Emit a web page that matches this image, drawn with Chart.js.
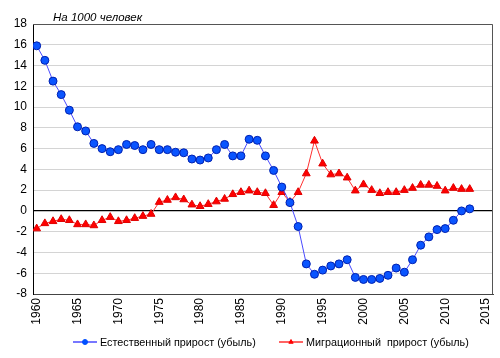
<!DOCTYPE html>
<html>
<head>
<meta charset="utf-8">
<script src="https://cdn.jsdelivr.net/npm/chart.js@4/dist/chart.umd.min.js"></script>
<style>
  html, body { margin: 0; padding: 0; background: #fff; }
</style>
</head>
<body>
<canvas id="chart" width="500" height="358"></canvas>
<script>
// годы наблюдений
const years = [1960, 1961, 1962, 1963, 1964, 1965, 1966, 1967, 1968, 1969,
               1970, 1971, 1972, 1973, 1974, 1975, 1976, 1977, 1978, 1979,
               1980, 1981, 1982, 1983, 1984, 1985, 1986, 1987, 1988, 1989,
               1990, 1991, 1992, 1993, 1994, 1995, 1996, 1997, 1998, 1999,
               2000, 2001, 2002, 2003, 2004, 2005, 2006, 2007, 2008, 2009,
               2010, 2011, 2012, 2013];

// естественный прирост, на 1000 человек
const natural = [15.9, 14.5, 12.5, 11.2, 9.7, 8.1, 7.7, 6.5, 6.0, 5.7,
                 5.9, 6.4, 6.3, 5.9, 6.4, 5.9, 5.9, 5.65, 5.6, 5.0,
                 4.9, 5.1, 5.9, 6.4, 5.3, 5.3, 6.9, 6.8, 5.3, 3.9,
                 2.3, 0.8, -1.5, -5.1, -6.1, -5.7, -5.3, -5.1, -4.7, -6.4,
                 -6.6, -6.6, -6.5, -6.2, -5.5, -5.9, -4.7, -3.3, -2.5, -1.8,
                 -1.7, -0.9, 0.0, 0.2];

// миграционный прирост, на 1000 человек
const migration = [-1.7, -1.2, -1.0, -0.8, -0.9, -1.3, -1.3, -1.4, -0.9, -0.6,
                   -1.0, -0.9, -0.7, -0.5, -0.3, 0.85, 1.05, 1.3, 1.1, 0.6,
                   0.45, 0.65, 0.9, 1.15, 1.6, 1.8, 1.95, 1.8, 1.7, 0.55,
                   1.8, 0.85, 1.8, 3.6, 6.75, 4.55, 3.5, 3.6, 3.2, 1.95,
                   2.55, 2.0, 1.7, 1.8, 1.8, 2.0, 2.2, 2.5, 2.5, 2.4,
                   1.95, 2.2, 2.1, 2.1];

const xTicks = [1960, 1965, 1970, 1975, 1980, 1985, 1990, 1995, 2000, 2005, 2010, 2015];
const yTicks = [-8, -6, -4, -2, 0, 2, 4, 6, 8, 10, 12, 14, 16, 18];

const seriesNames = ['Естественный прирост (убыль)', 'Миграционный  прирост (убыль)'];
const titleText = 'На 1000 человек';

const FONT = '"Liberation Sans", Arial, sans-serif';

// рамка области построения, подпись и легенда
const decor = {
    id: 'decor',
    beforeDatasetsDraw(chart) {
        const { ctx, chartArea: a } = chart;
        ctx.save();
        ctx.strokeStyle = '#555';
        ctx.lineWidth = 1;
        ctx.beginPath();
        ctx.moveTo(a.left, a.top + 0.5);
        ctx.lineTo(a.right - 0.5, a.top + 0.5);
        ctx.lineTo(a.right - 0.5, a.bottom);
        ctx.stroke();
        ctx.restore();
    },
    afterDraw(chart) {
        const { ctx } = chart;
        ctx.save();
        ctx.fillStyle = '#000';
        ctx.font = 'italic 11.5px ' + FONT;
        ctx.textBaseline = 'alphabetic';
        ctx.fillText(titleText, 53, 21);

        // легенда
        const ly = 342;
        const items = [
            { x: 73, color: '#4a4aff', fill: '#0050ff', style: 'circle', text: seriesNames[0] },
            { x: 279, color: '#ff3030', fill: '#ff0000', style: 'triangle', text: seriesNames[1] }
        ];
        ctx.font = '10.8px ' + FONT;
        ctx.textBaseline = 'middle';
        items.forEach(it => {
            ctx.strokeStyle = it.color;
            ctx.lineWidth = 1.5;
            ctx.beginPath();
            ctx.moveTo(it.x, ly);
            ctx.lineTo(it.x + 24, ly);
            ctx.stroke();
            ctx.fillStyle = it.fill;
            ctx.strokeStyle = it.fill;
            ctx.lineWidth = 1;
            Chart.helpers.drawPoint(ctx, { pointStyle: it.style, radius: 2.5, borderWidth: 1 }, it.x + 12, ly);
            ctx.fillStyle = '#000';
            ctx.fillText(it.text, it.x + 27, ly + 1);
        });
        ctx.restore();
    }
};

const ctx = document.getElementById('chart').getContext('2d');
new Chart(ctx, {
    type: 'line',
    data: {
        datasets: [{
            label: seriesNames[0],
            data: years.map((y, i) => ({ x: y, y: natural[i] })),
            borderColor: '#4a4aff',
            borderWidth: 1,
            backgroundColor: '#0a55ff',
            pointBorderColor: '#0020b0',
            pointBorderWidth: 1,
            pointStyle: 'circle',
            pointRadius: 4,
            tension: 0
        }, {
            label: seriesNames[1],
            data: years.map((y, i) => ({ x: y, y: migration[i] })),
            borderColor: '#ff3030',
            borderWidth: 1,
            backgroundColor: '#ff0000',
            pointBorderColor: '#e00000',
            pointBorderWidth: 1,
            pointStyle: 'triangle',
            pointRadius: 4.5,
            tension: 0
        }]
    },
    options: {
        responsive: false,
        animation: false,
        layout: { padding: { left: 0, top: 24, right: 7, bottom: 28 } },
        plugins: {
            legend: { display: false },
            tooltip: { enabled: false }
        },
        scales: {
            x: {
                type: 'linear',
                min: 1959.55,
                max: 2015.85,
                afterBuildTicks(scale) {
                    scale.ticks = xTicks.map(v => ({ value: v }));
                },
                afterFit(scale) {
                    scale.height = 36;
                    scale.paddingLeft = 0;
                    scale.paddingRight = 0;
                },
                grid: { display: false, drawTicks: false },
                border: { color: '#444', width: 1 },
                ticks: {
                    minRotation: 90,
                    maxRotation: 90,
                    padding: 4,
                    color: '#000',
                    font: { family: FONT, size: 12 },
                    callback: v => String(v)
                }
            },
            y: {
                min: -8,
                max: 18,
                afterBuildTicks(scale) {
                    scale.ticks = yTicks.map(v => ({ value: v }));
                },
                afterFit(scale) {
                    scale.width = 33;
                },
                grid: {
                    drawTicks: false,
                    color: c => c.tick && c.tick.value === 0 ? '#000' : '#d4d4d4',
                    lineWidth: c => c.tick && c.tick.value === 0 ? 1.2 : 1
                },
                border: { color: '#000', width: 1 },
                ticks: {
                    padding: 6,
                    color: '#000',
                    font: { family: FONT, size: 12 },
                    callback: v => String(v)
                }
            }
        }
    },
    plugins: [decor]
});
</script>
</body>
</html>
